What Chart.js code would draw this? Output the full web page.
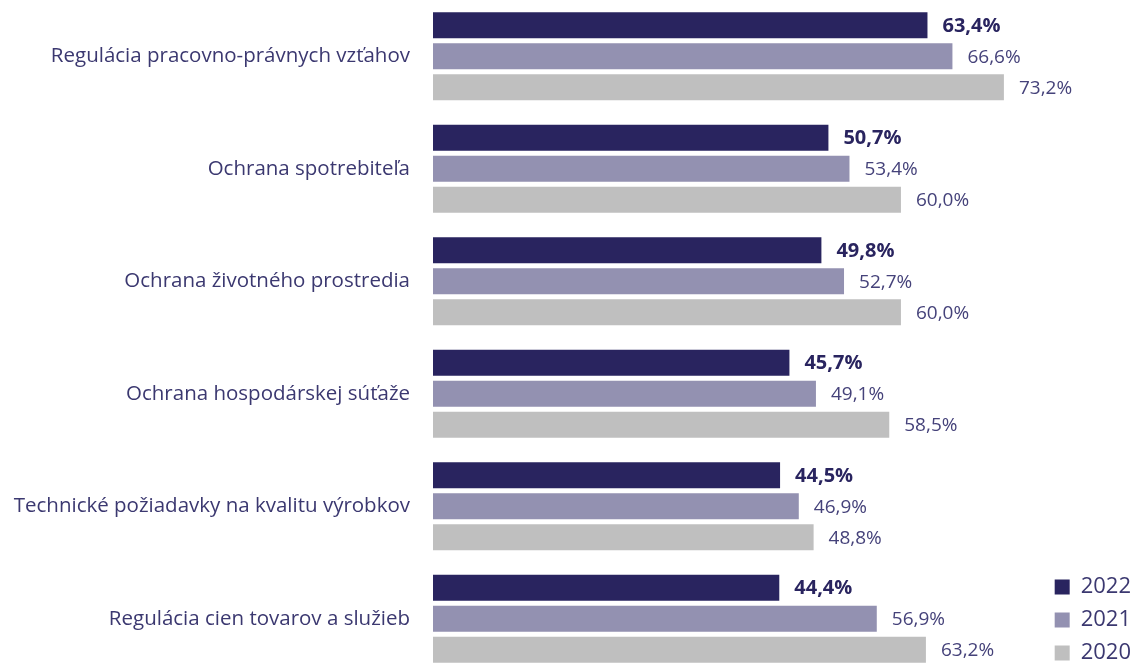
<!DOCTYPE html>
<html lang="sk">
  <head>
    <meta charset="utf-8" />
    <title>Oblasti regulácie</title>
    <script src="https://cdn.jsdelivr.net/npm/chart.js/dist/chart.umd.min.js"></script>
    <style>
      * {
        margin: 0;
        padding: 0;
      }
      body {
        background: #fff;
        overflow: hidden;
      }
      .chartBox {
        width: 1135px;
        height: 675px;
      }
    </style>
  </head>
  <body>
    <div class="chartBox">
      <canvas id="myChart"></canvas>
    </div>

    <script>
      const categories = [
        "Regulácia pracovno-právnych vzťahov",
        "Ochrana spotrebiteľa",
        "Ochrana životného prostredia",
        "Ochrana hospodárskej súťaže",
        "Technické požiadavky na kvalitu výrobkov",
        "Regulácia cien tovarov a služieb",
      ];
      const years = ["2022", "2021", "2020"];
      const values2022 = [63.4, 50.7, 49.8, 45.7, 44.5, 44.4];
      const values2021 = [66.6, 53.4, 52.7, 49.1, 46.9, 56.9];
      const values2020 = [73.2, 60.0, 60.0, 58.5, 48.8, 63.2];

      const colors = ["#29245f", "#9391b1", "#bfbfbf"];
      const textColor = "#3b3870";

      const fmt = (v) => v.toFixed(1).replace(".", ",") + "%";

      // value labels to the right of each bar
      const barLabels = {
        id: "barLabels",
        afterDatasetsDraw(chart) {
          const ctx = chart.ctx;
          ctx.save();
          ctx.textBaseline = "middle";
          ctx.textAlign = "left";
          chart.data.datasets.forEach((ds, i) => {
            const meta = chart.getDatasetMeta(i);
            if (meta.hidden) return;
            if (i === 0) {
              ctx.font = "bold 20px 'Open Sans'";
              ctx.fillStyle = "#29245f";
            } else {
              ctx.font = "19px 'Open Sans'";
              ctx.fillStyle = "#45427a";
            }
            meta.data.forEach((bar, j) => {
              ctx.fillText(fmt(ds.data[j]), bar.x + 15, bar.y + 1);
            });
          });
          ctx.restore();
        },
      };

      const datasets = [values2022, values2021, values2020].map((vals, i) => ({
        label: years[i],
        data: vals,
        backgroundColor: colors[i],
        borderWidth: 0,
        categoryPercentage: 0.827,
        barPercentage: 0.84,
      }));

      new Chart(document.getElementById("myChart"), {
        type: "bar",
        data: { labels: categories, datasets: datasets },
        options: {
          indexAxis: "y",
          responsive: true,
          maintainAspectRatio: false,
          animation: false,
          layout: { padding: { top: 0, bottom: 0, left: 0, right: -6 } },
          scales: {
            x: {
              display: false,
              min: 0,
              max: 78.3,
            },
            y: {
              grid: { display: false, drawTicks: false },
              border: { display: false },
              ticks: {
                color: textColor,
                padding: 23,
                font: { family: "'Open Sans'", size: 20.5 },
              },
              afterFit(scale) {
                scale.width = 433;
                // no extra room above / below the category band
                scale.paddingTop = 0;
                scale.paddingBottom = 0;
              },
            },
          },
          plugins: {
            legend: {
              position: "right",
              align: "end",
              labels: {
                boxWidth: 15,
                boxHeight: 15,
                padding: 11,
                color: textColor,
                font: { family: "'Open Sans'", size: 22 },
              },
            },
            tooltip: { enabled: false },
          },
        },
        plugins: [barLabels],
      });
    </script>
  </body>
</html>
